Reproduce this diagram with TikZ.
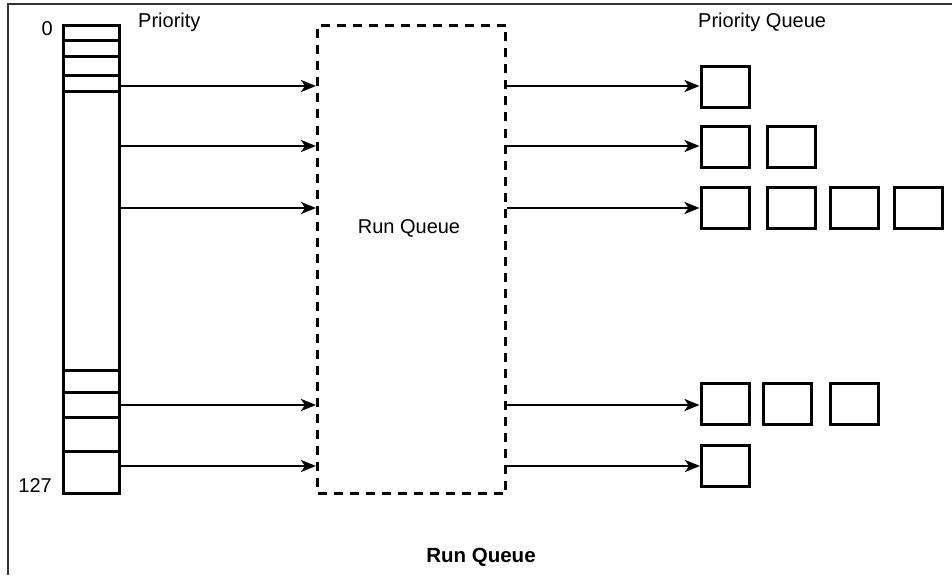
\documentclass[tikz,border=0pt]{standalone}
\usepackage{fontspec}
\setmainfont{Liberation Sans}
\usetikzlibrary{arrows.meta}
\begin{document}
\begin{tikzpicture}[x=1pt,y=-1pt,
  lbl/.style={font=\fontsize{20}{23}\selectfont, inner sep=0pt},
  cell/.style={draw, line width=3pt, minimum width=48pt, minimum height=41pt, inner sep=0pt},
  link/.style={line width=2.4pt, -{Stealth[length=15pt,width=12pt,inset=4pt]}},
  slot/.style={line width=3pt}
]
\useasboundingbox (0,0) rectangle (952,575);
% outer frame (right and bottom edges fall outside the page)
\draw[line width=1.6pt, black!80] (952,4) -- (8,4) -- (8,575);

% priority array
\node[draw, slot, minimum width=56pt, minimum height=468pt, inner sep=0pt, anchor=north west] (prio) at (62,24) {};
\foreach \y in {41,57,76,92,370,392,417,451}
  \draw[slot] (62,\y) -- (118,\y);
\node[lbl, anchor=base east] (p0) at (53,36) {0};
\node[lbl, anchor=base east] (p127) at (52,492) {127};
\node[lbl, anchor=base west] (ptitle) at (138,28) {Priority};

% run queue
\node[draw, line width=3pt, dash pattern=on 9pt off 7pt, minimum width=188pt, minimum height=468pt, inner sep=0pt, anchor=north west] (rq) at (316,24) {};
\node[lbl] (rqlabel) at (409,228) {Run Queue};

% per-priority queues
\node[lbl, anchor=base west] (qtitle) at (698,28) {Priority Queue};
\node[cell] (q11) at (725,87) {};
\node[cell] (q21) at (725,146.5) {};
\node[cell] (q22) at (791,146.5) {};
\node[cell] (q31) at (725,207.5) {};
\node[cell] (q32) at (791,207.5) {};
\node[cell] (q33) at (854,207.5) {};
\node[cell] (q34) at (918,207.5) {};
\node[cell] (q41) at (725,403.5) {};
\node[cell] (q42) at (787.5,403.5) {};
\node[cell] (q43) at (854,403.5) {};
\node[cell] (q51) at (725.5,466) {};

% connectors: array -> run queue -> priority queue
\foreach \i/\y in {1/86,2/146,3/208,4/405,5/466} {
  \coordinate (a\i) at (prio.east |- {(0,\y)});
  \coordinate (b\i) at (rq.west |- {(0,\y)});
  \coordinate (c\i) at (rq.east |- {(0,\y)});
  \draw[link] (a\i) -- (b\i);
  \draw[link] (c\i) -- (c\i -| q\i1.west);
}

\node[font=\bfseries\fontsize{20.5}{23}\selectfont, inner sep=0pt] (caption) at (481,557) {Run Queue};
\end{tikzpicture}
\end{document}
